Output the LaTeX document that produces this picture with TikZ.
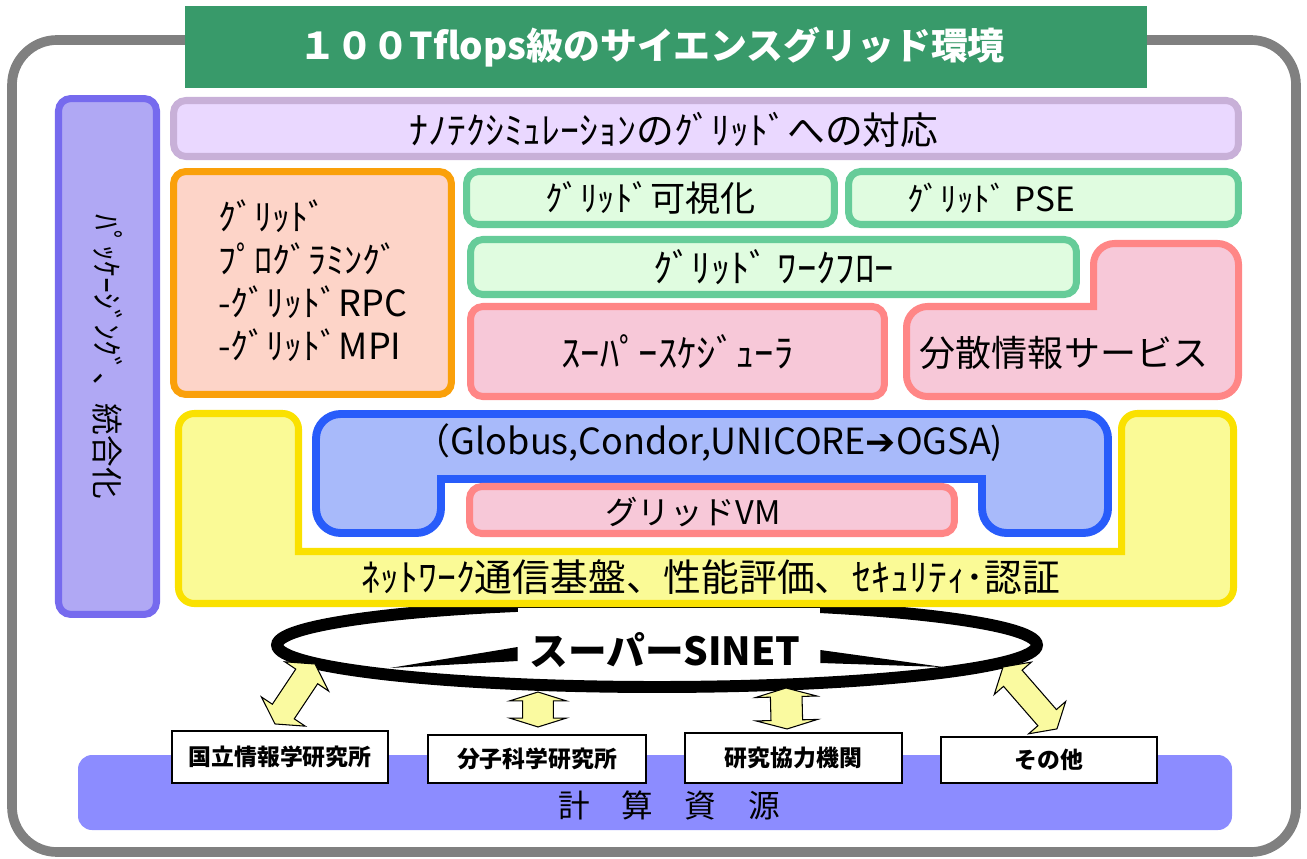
\documentclass[tikz,border=0pt]{standalone}
\usepackage{fontspec}
\setmainfont{Noto Sans CJK JP}
\newfontfamily\symfont{DejaVu Sans}
\usetikzlibrary{shapes.geometric,calc}
\newcommand{\setfs}[1]{\fontsize{#1}{#1}\selectfont}
% yellow two-headed block arrow: from, to, head length, head half width, body half width (pt)
\newcommand{\blockarrow}[5]{%
  \draw[link] let \p1=(#1), \p2=(#2), \n1={atan2(\y2-\y1,\x2-\x1)}, \n2={veclen(\x2-\x1,\y2-\y1)} in
    [shift={(\p1)}, rotate=\n1, x=1pt, y=1pt]
    (0,0) -- (#3,#4) -- (#3,#5) -- (\n2-#3,#5) -- (\n2-#3,#4) -- (\n2,0) -- (\n2-#3,-#4) -- (\n2-#3,-#5) -- (#3,-#5) -- (#3,-#4) -- cycle;}
\definecolor{framegray}{RGB}{128,128,128}
\definecolor{titlegreen}{RGB}{56,154,106}
\definecolor{sidefill}{RGB}{176,168,244}
\definecolor{sideline}{RGB}{118,106,238}
\definecolor{nanofill}{RGB}{234,216,255}
\definecolor{nanoline}{RGB}{200,176,216}
\definecolor{progfill}{RGB}{253,212,200}
\definecolor{progline}{RGB}{250,160,10}
\definecolor{toolfill}{RGB}{224,252,224}
\definecolor{toolline}{RGB}{102,204,153}
\definecolor{schedfill}{RGB}{247,200,216}
\definecolor{schedline}{RGB}{255,134,134}
\definecolor{netfill}{RGB}{250,250,150}
\definecolor{netline}{RGB}{250,225,0}
\definecolor{mwfill}{RGB}{168,186,250}
\definecolor{mwline}{RGB}{40,92,250}
\definecolor{basefill}{RGB}{140,140,255}
\definecolor{linkfill}{RGB}{250,250,160}
\begin{document}
\begin{tikzpicture}[x=0.02cm,y=-0.02cm,
box/.style={rectangle, rounded corners=7pt, line width=4pt, inner sep=0pt, align=center},
nano/.style={box, draw=nanoline, fill=nanofill},
prog/.style={box, draw=progline, fill=progfill},
tool/.style={box, draw=toolline, fill=toolfill},
sched/.style={box, draw=schedline, fill=schedfill},
site/.style={rectangle, draw=black, line width=1.2pt, fill=white, inner sep=0pt, font=\bfseries\setfs{13}},
link/.style={draw=black, line width=0.6pt, fill=linkfill, line join=miter}]

\useasboundingbox (0,0) rectangle (1307,858);

% frame and title
\draw[line width=5.5pt, draw=framegray, rounded corners=0.9cm] (12,40) rectangle (1296,852);
\draw (666,47) node[rectangle, fill=titlegreen, minimum width=19.24cm, minimum height=1.66cm] (T) {};
\draw (652,47) node[text=white, font=\bfseries\setfs{21}] (TT) {１００Tflops級のサイエンスグリッド環境};

% left column
\draw (107.5,356.5) node[box, draw=sideline, fill=sidefill, rotate=-90, minimum width=10.32cm, minimum height=1.96cm, font=\setfs{18}] (PK) {ﾊﾟｯｹｰｼﾞﾝｸﾞ、統合化};

% upper layers
\draw (706,128.5) node[nano, minimum width=21.3cm, minimum height=1.12cm] (NT) {};
\draw (674,130) node[font=\setfs{21.5}] (NTT) {ﾅﾉﾃｸｼﾐｭﾚｰｼｮﾝのｸﾞﾘｯﾄﾞへの対応};
\draw (312.5,283) node[prog, minimum width=5.56cm, minimum height=4.46cm] (GP) {};
\draw (218,281) node[anchor=west, align=left, inner sep=0pt, font=\fontsize{20.5}{24.4}\selectfont] (GPT) {ｸﾞﾘｯﾄﾞ\\ﾌﾟﾛｸﾞﾗﾐﾝｸﾞ\\-ｸﾞﾘｯﾄﾞRPC\\-ｸﾞﾘｯﾄﾞMPI};
\draw (650.5,198) node[tool, minimum width=7.36cm, minimum height=1.06cm, font=\setfs{20}] (VIS) {ｸﾞﾘｯﾄﾞ可視化};
\draw (1043.5,198) node[tool, minimum width=7.8cm, minimum height=1.06cm] (PSE) {};
\draw (991,198) node[font=\setfs{19}] (PSET) {ｸﾞﾘｯﾄﾞ PSE};
\draw (773.5,267) node[tool, minimum width=12.12cm, minimum height=1.1cm, font=\setfs{22}] (WF) {ｸﾞﾘｯﾄﾞ ﾜｰｸﾌﾛｰ};
\draw (677.5,351.5) node[sched, minimum width=8.28cm, minimum height=1.8cm, font=\setfs{22}] (SS) {ｽｰﾊﾟｰｽｹｼﾞｭｰﾗ};
\draw[line width=4pt, draw=schedline, fill=schedfill, rounded corners=12pt] (1238.5,320) -- (1238.5,396.5) -- (906.5,396.5) -- (906.5,306.5) [sharp corners] -- (1093.5,306.5) [rounded corners=12pt] -- (1093.5,243.5) -- (1238.5,243.5) -- cycle;
\draw (1064,353) node[font=\setfs{20.5}] (IS) {分散情報サービス};

% network ring (its top runs behind the network layer)
\draw (657,645) node[ellipse, draw=black, line width=6.8pt, minimum width=15.2cm, minimum height=1.68cm] (RING) {};

% middleware and network
\draw[line width=4pt, draw=netline, fill=netfill, rounded corners=9pt] (178.5,413.5) -- (298.5,413.5) [sharp corners] -- (298.5,551.5) -- (1121.5,551.5) [rounded corners=9pt] -- (1121.5,413.5) -- (1233.5,413.5) -- (1233.5,603.5) -- (178.5,603.5) -- cycle;
\draw (711,577) node[font=\setfs{21.5}] (NW) {ﾈｯﾄﾜｰｸ通信基盤、性能評価、ｾｷｭﾘﾃｨ･認証};
\draw[line width=4.5pt, draw=mwline, fill=mwfill, rounded corners=14pt] (316,414) -- (1108,414) -- (1108,533) -- (982,533) [sharp corners] -- (982,479) -- (441,479) [rounded corners=14pt] -- (441,533) -- (316,533) -- cycle;
\draw (709,443) node[font=\setfs{20.5}] (MW) {（Globus,Condor,UNICORE{\symfont ➔}OGSA)};
\draw (712,510) node[sched, minimum width=9.7cm, minimum height=0.94cm] (VM) {};
\draw (693,512) node[font=\setfs{18.5}] (VMT) {グリッドVM};

% ring label and the two inner strokes
\draw (669,641) node[rectangle, fill=white, minimum width=6.04cm, minimum height=1.32cm] (SNB) {};
\draw (665,650) node[font=\bfseries\setfs{22}] (SN) {スーパーSINET};
\fill[black] (SNB.west |- 0,647) -- (SNB.west |- 0,661) -- (390,668) -- cycle;
\fill[black] (SNB.east |- 0,650) -- (SNB.east |- 0,663) -- (943,667) -- cycle;

% resources
\draw[fill=basefill, draw=none, rounded corners=8pt] (78,755) rectangle (1232,830);
\draw (669,805) node[font=\setfs{18}] (CR) {計\quad 算\quad 資\quad 源};
\draw (280,757) node[site, minimum width=4.32cm, minimum height=1.04cm] (NII) {国立情報学研究所};
\draw (537,759) node[site, minimum width=4.36cm, minimum height=0.96cm] (IMS) {分子科学研究所};
\draw (793.5,758) node[site, minimum width=4.34cm, minimum height=1.0cm] (CO) {研究協力機関};
\draw (1049,760) node[site, minimum width=4.32cm, minimum height=0.92cm] (OT) {その他};

% links between ring and sites
\coordinate (R1) at (315,664);
\coordinate (R2) at (538,692);
\coordinate (R3) at (786,688);
\coordinate (R4) at (1003,667);
\blockarrow{R1}{[xshift=-0.1cm,yshift=0.12cm]NII.north}{8.5}{15}{7.5}
\blockarrow{R2}{[xshift=0.02cm,yshift=0.14cm]IMS.north}{5}{16}{8.8}
\blockarrow{R3}{[xshift=-0.13cm,yshift=0.06cm]CO.north}{5}{17.5}{9}
\blockarrow{R4}{[xshift=0.16cm,yshift=0.14cm]OT.north}{8.5}{14}{7}
\end{tikzpicture}
\end{document}
